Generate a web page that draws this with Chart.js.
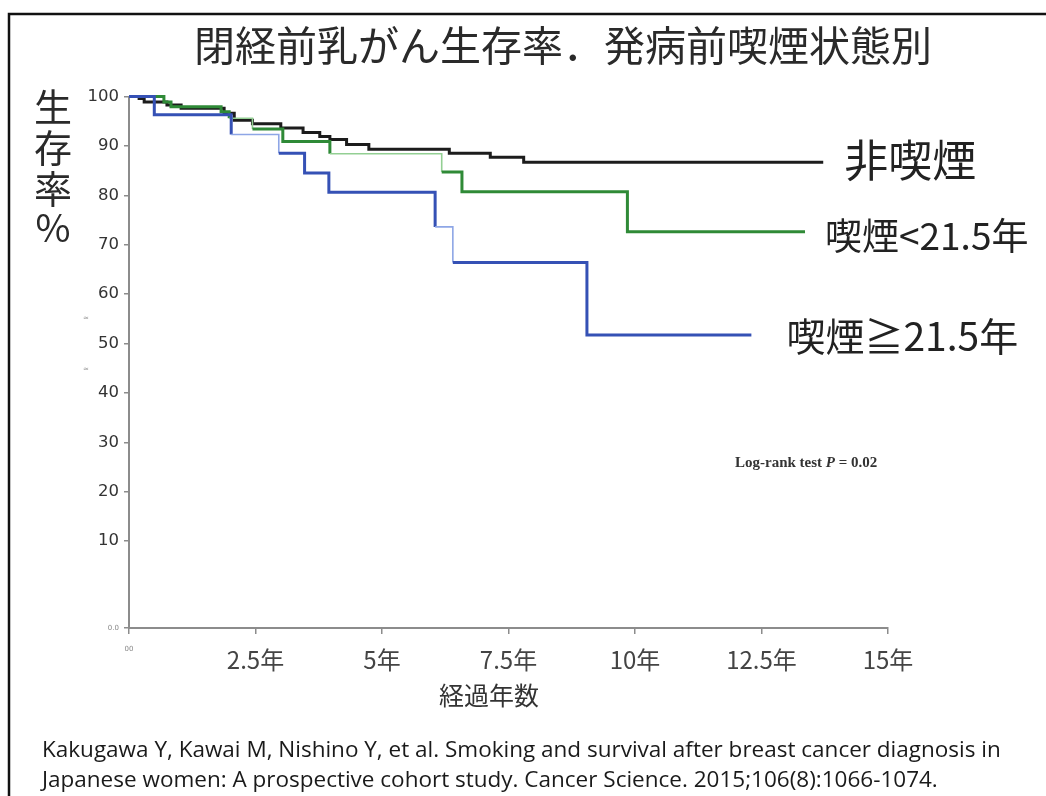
<!DOCTYPE html>
<html lang="ja">
<head>
<meta charset="UTF-8">
<title>閉経前乳がん生存率．発病前喫煙状態別</title>
<script src="https://cdn.jsdelivr.net/npm/chart.js"></script>
<style>
  html, body { margin: 0; padding: 0; background: #fff; overflow: hidden; }
  canvas { display: block; }
</style>
</head>
<body>
<canvas id="kmChart" width="1046" height="796"></canvas>
<script>
// 生存曲線の階段データ（時点: 年, 生存率: %）
const nonSmokerYears = [0, 0.2, 0.3, 0.75, 1.03, 1.88, 2.08, 2.44, 3.0, 3.44, 3.77, 3.97, 4.3, 4.74, 6.33, 7.14, 7.8, 13.72];
const nonSmokerSurv  = [100, 99.6, 98.9, 98.3, 97.6, 96.6, 95.2, 94.5, 93.6, 92.7, 91.9, 91.3, 90.3, 89.3, 88.5, 87.7, 86.7, 86.7];

const shortSmokerYears = [0, 0.69, 0.83, 1.82, 1.98, 2.44, 3.04, 3.97, 6.18, 6.58, 9.85, 13.36];
const shortSmokerSurv  = [100, 98.9, 97.9, 96.9, 95.6, 93.4, 90.9, 88.4, 84.7, 80.7, 72.6, 72.6];

const longSmokerYears = [0, 0.5, 2.02, 2.96, 3.47, 3.95, 6.05, 6.4, 9.05, 12.3];
const longSmokerSurv  = [100, 96.3, 92.3, 88.5, 84.5, 80.6, 73.6, 66.4, 51.7, 51.7];

const seriesNames = ['非喫煙', '喫煙<21.5年', '喫煙≧21.5年'];

const xTickValues = [0, 2.5, 5, 7.5, 10, 12.5, 15];
const xTickLabels = ['00', '2.5年', '5年', '7.5年', '10年', '12.5年', '15年'];
const yTickValues = [10, 20, 30, 40, 50, 60, 70, 80, 90, 100];
const yTickLabels = ['10', '20', '30', '40', '50', '60', '70', '80', '90', '100'];

// 元図では軸の下端が 10 より少し下に伸びていて「0.0」とだけ書かれている
const yAxisMin = -7.6;
const yAxisMinLabel = '0.0';

function toPoints(xs, ys) {
  return xs.map((x, i) => ({ x: x, y: ys[i] }));
}

// 細く薄く描かれている区間（元図のまま）
function segStyle(color, light, lightIdx) {
  return {
    borderColor: c => lightIdx.includes(c.p0DataIndex) ? light : color,
    borderWidth: c => lightIdx.includes(c.p0DataIndex) ? 1.6 : 3
  };
}

const JP = '"Noto Sans CJK JP", "Noto Sans", sans-serif';

const slideText = {
  id: 'slideText',
  afterDraw(chart) {
    const ctx = chart.ctx;
    const xs = chart.scales.x, ys = chart.scales.y;
    ctx.save();

    // 外枠（上と左のみ）
    ctx.strokeStyle = '#111';
    ctx.lineWidth = 2.5;
    ctx.beginPath();
    ctx.moveTo(1046, 14);
    ctx.lineTo(9, 14);
    ctx.lineTo(9, 796);
    ctx.stroke();

    // タイトル
    ctx.fillStyle = '#2a2a2a';
    ctx.textAlign = 'center';
    ctx.textBaseline = 'middle';
    ctx.font = '41px ' + JP;
    ctx.fillText('閉経前乳がん生存率．発病前喫煙状態別', 563, 45);

    // 縦軸タイトル（縦書き）
    ctx.font = '38px ' + JP;
    const yTitle = ['生', '存', '率', '%'];
    const yTitleY = [107, 148, 189, 228];
    yTitle.forEach((ch, i) => ctx.fillText(ch, 53, yTitleY[i]));

    // 横軸タイトル
    ctx.font = '25px ' + JP;
    ctx.fillStyle = '#333';
    ctx.fillText('経過年数', 489, 695);

    // 縦軸横の小さな印
    ctx.font = '7px "DejaVu Sans", sans-serif';
    ctx.fillStyle = '#999';
    ctx.fillText('≈', 86, 318);
    ctx.fillText('≈', 86, 369);

    // 曲線右端のラベル
    ctx.fillStyle = '#222';
    ctx.textAlign = 'left';
    const ends = [
      { name: seriesNames[0], x: nonSmokerYears.at(-1), y: nonSmokerSurv.at(-1), dx: 21, dy: -2, size: 44 },
      { name: seriesNames[1], x: shortSmokerYears.at(-1), y: shortSmokerSurv.at(-1), dx: 20, dy: 4, size: 37 },
      { name: seriesNames[2], x: longSmokerYears.at(-1), y: longSmokerSurv.at(-1), dx: 35, dy: 1, size: 39 }
    ];
    ends.forEach(e => {
      ctx.font = e.size + 'px ' + JP;
      ctx.fillText(e.name, xs.getPixelForValue(e.x) + e.dx, ys.getPixelForValue(e.y) + e.dy);
    });

    // Log-rank 検定
    ctx.fillStyle = '#333';
    ctx.font = 'bold 15px "Liberation Serif", serif';
    let lx = 735;
    const ly = 463;
    const p1 = 'Log-rank test ';
    ctx.fillText(p1, lx, ly);
    lx += ctx.measureText(p1).width;
    ctx.font = 'italic bold 15px "Liberation Serif", serif';
    ctx.fillText('P', lx, ly);
    lx += ctx.measureText('P').width;
    ctx.font = 'bold 15px "Liberation Serif", serif';
    ctx.fillText(' = 0.02', lx, ly);

    // 出典
    ctx.fillStyle = '#1a1a1a';
    ctx.font = '22.5px "Open Sans", sans-serif';
    ctx.textBaseline = 'alphabetic';
    ctx.fillText('Kakugawa Y, Kawai M, Nishino Y, et al. Smoking and survival after breast cancer diagnosis in', 42, 757);
    ctx.fillText('Japanese women: A prospective cohort study. Cancer Science. 2015;106(8):1066-1074.', 42, 787);

    ctx.restore();
  }
};

new Chart(document.getElementById('kmChart'), {
  type: 'line',
  data: {
    datasets: [
      {
        label: seriesNames[2],
        data: toPoints(longSmokerYears, longSmokerSurv),
        borderColor: '#3551b5',
        segment: segStyle('#3551b5', '#8ea6e6', [2, 6])
      },
      {
        label: seriesNames[1],
        data: toPoints(shortSmokerYears, shortSmokerSurv),
        borderColor: '#2f8a37',
        segment: segStyle('#2f8a37', '#93cf93', [4, 7])
      },
      {
        label: seriesNames[0],
        data: toPoints(nonSmokerYears, nonSmokerSurv),
        borderColor: '#1c1c1c',
        segment: segStyle('#1c1c1c', '#1c1c1c', [])
      }
    ]
  },
  options: {
    responsive: false,
    animation: false,
    datasets: {
      line: {
        stepped: 'before',
        pointRadius: 0,
        borderWidth: 3,
        fill: false,
        clip: false
      }
    },
    layout: {
      autoPadding: false,
      padding: { left: 0, top: 96.5, right: 158, bottom: 108 }
    },
    plugins: {
      legend: { display: false },
      title: { display: false },
      tooltip: { enabled: false }
    },
    scales: {
      x: {
        type: 'linear',
        min: 0,
        max: 15,
        afterFit: s => { s.height = 60; },
        afterBuildTicks: s => { s.ticks = xTickValues.map(v => ({ value: v })); },
        border: { display: true, color: '#8c8c8c', width: 2 },
        grid: { drawOnChartArea: false, drawTicks: true, tickLength: 6, color: '#8c8c8c', lineWidth: 1.5 },
        ticks: {
          maxRotation: 0,
          autoSkip: false,
          padding: 11,
          color: c => c.tick && c.tick.value === 0 ? '#888' : '#444',
          font: c => c.tick && c.tick.value === 0
            ? { size: 7, family: '"DejaVu Sans", sans-serif' }
            : { size: 24, family: JP },
          callback: v => xTickLabels[xTickValues.indexOf(v)]
        }
      },
      y: {
        type: 'linear',
        min: yAxisMin,
        max: 100,
        afterFit: s => { s.width = 129; },
        afterBuildTicks: s => { s.ticks = [yAxisMin].concat(yTickValues).map(v => ({ value: v })); },
        border: { display: true, color: '#8c8c8c', width: 2 },
        grid: { drawOnChartArea: false, drawTicks: true, tickLength: 5, color: '#8c8c8c', lineWidth: 1.5 },
        ticks: {
          autoSkip: false,
          padding: 5,
          color: c => c.tick && c.tick.value === yAxisMin ? '#888' : '#333',
          font: c => c.tick && c.tick.value === yAxisMin
            ? { size: 7, family: '"DejaVu Sans", sans-serif' }
            : { size: 16.5, family: '"DejaVu Sans", sans-serif' },
          callback: v => v === yAxisMin ? yAxisMinLabel : yTickLabels[yTickValues.indexOf(v)]
        }
      }
    }
  },
  plugins: [slideText]
});
</script>
</body>
</html>
